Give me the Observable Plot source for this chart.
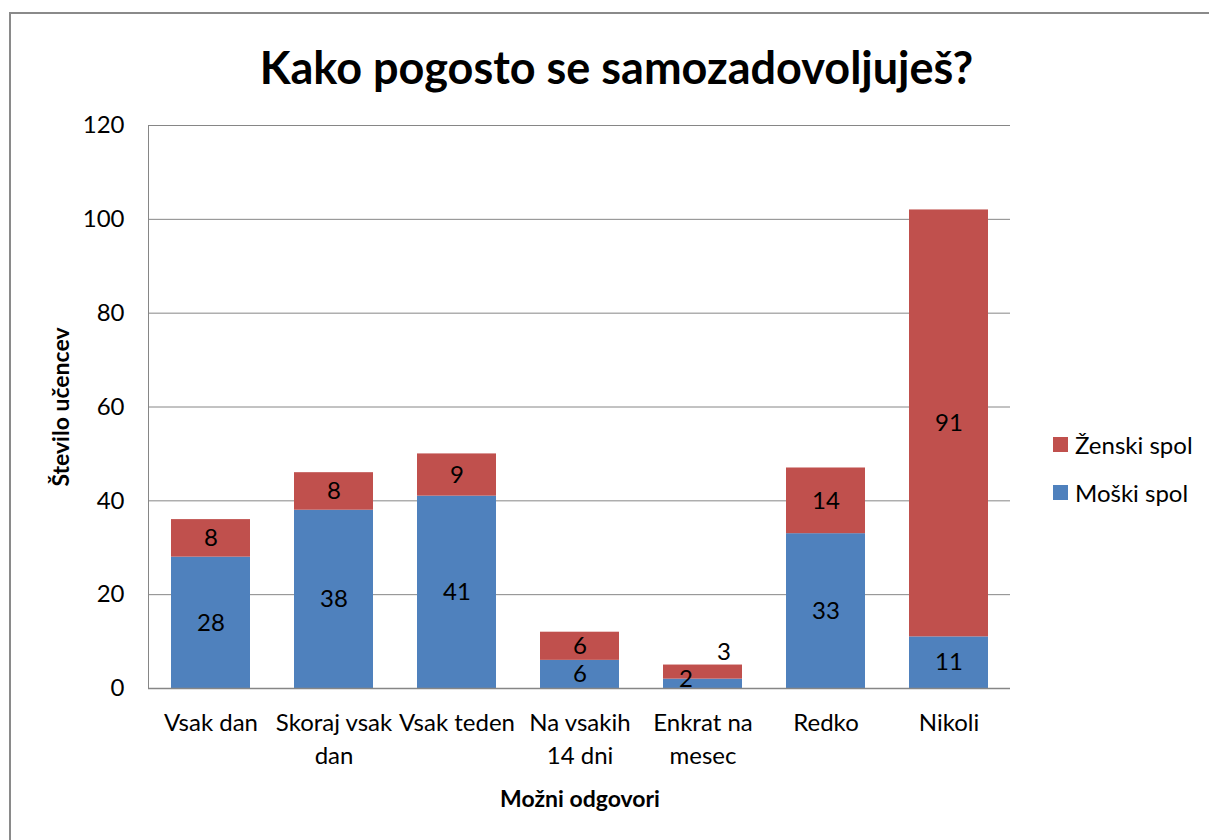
<!DOCTYPE html>
<html>
<head>
<meta charset="utf-8">
<script src="https://cdn.jsdelivr.net/npm/d3@7"></script>
<script src="https://cdn.jsdelivr.net/npm/@observablehq/plot@0.6"></script>
<style>
  html, body { margin: 0; padding: 0; background: #fff; overflow: hidden; }
  #wrap { position: relative; width: 1209px; height: 840px; overflow: hidden; font-family: Lato, "Open Sans", sans-serif; }
  #border { position: absolute; left: 9px; top: 12px; width: 1300px; height: 1000px; border: 2px solid #8a8a8a; box-sizing: border-box; }
  #chart { position: absolute; left: 0; top: 0; }
  .t { position: absolute; color: #000; white-space: nowrap; }
  #title { left: 0; width: 1233px; top: 40px; text-align: center; font-size: 45px; font-weight: bold; }
  #ylab { left: 60px; top: 407px; font-size: 23px; font-weight: bold; transform: translate(-50%, -50%) rotate(-90deg); }
  #xlab { left: 580px; top: 798px; font-size: 23px; font-weight: bold; transform: translate(-50%, -50%); }
  #legend { left: 1053px; top: 427px; font-size: 24px; }
  .li { display: flex; align-items: center; height: 34px; margin-bottom: 14px; }
  .sw { width: 15px; height: 15px; margin-right: 7px; }
</style>
</head>
<body>
<div id="wrap">
  <div id="border"></div>
  <div id="chart"></div>
  <div class="t" id="title">Kako pogosto se samozadovoljuješ?</div>
  <div class="t" id="ylab">Število učencev</div>
  <div class="t" id="xlab">Možni odgovori</div>
  <div class="t" id="legend"></div>
</div>
<script>
const categories = ["Vsak dan", "Skoraj vsak dan", "Vsak teden", "Na vsakih 14 dni", "Enkrat na mesec", "Redko", "Nikoli"];
const tickLabels = ["Vsak dan", "Skoraj vsak\ndan", "Vsak teden", "Na vsakih\n14 dni", "Enkrat na\nmesec", "Redko", "Nikoli"];
const seriesNames = ["Moški spol", "Ženski spol"];
const moski = [28, 38, 41, 6, 2, 33, 11];
const zenski = [8, 8, 9, 6, 3, 14, 91];
const yTicks = [0, 20, 40, 60, 80, 100, 120];
const colors = ["#4F81BD", "#C0504D"];

const data = [];
categories.forEach((c, i) => {
  data.push({cat: c, series: seriesNames[0], value: moski[i]});
  data.push({cat: c, series: seriesNames[1], value: zenski[i]});
});

const small = "Enkrat na mesec";
const normal = data.filter(d => d.cat !== small);

const plot = Plot.plot({
  width: 1209,
  height: 840,
  marginLeft: 148,
  marginRight: 199,
  marginTop: 125,
  marginBottom: 152,
  style: {fontFamily: "Lato, 'Open Sans', sans-serif", color: "#000", background: "transparent"},
  x: {domain: categories, paddingInner: 0.36, paddingOuter: 0.18, label: null},
  y: {domain: [0, 120], label: null},
  color: {domain: seriesNames, range: colors},
  marks: [
    Plot.ruleY(yTicks, {stroke: "#868686", strokeWidth: 1}),
    Plot.barY(data, Plot.stackY({x: "cat", y: "value", fill: "series", order: seriesNames})),
    Plot.text(normal, Plot.stackY({x: "cat", y: "value", z: "series", text: "value", order: seriesNames, fontSize: 24, fill: "#000"})),
    Plot.text(data.filter(d => d.cat === small && d.series === seriesNames[0]),
      Plot.stackY({x: "cat", y: "value", text: "value", fontSize: 24, fill: "#000", dx: -17, dy: -4})),
    Plot.text(data.filter(d => d.cat === small), 
      Plot.stackY({x: "cat", y: "value", z: "series", text: d => d.series === seriesNames[1] ? d.value : "", order: seriesNames, fontSize: 24, fill: "#000", dx: 21, dy: -20})),
    Plot.frame({anchor: "left", stroke: "#868686"}),
    Plot.ruleY([0], {stroke: "#868686", strokeWidth: 1.5}),
    Plot.axisY({ticks: yTicks, tickSize: 0, tickPadding: 24, fontSize: 24, label: null}),
    Plot.axisX({tickSize: 0, tickPadding: 19, fontSize: 24, lineHeight: 1.375, label: null,
      tickFormat: d => tickLabels[categories.indexOf(d)]})
  ]
});
document.getElementById("chart").appendChild(plot);

const legend = document.getElementById("legend");
[1, 0].forEach(i => {
  const row = document.createElement("div");
  row.className = "li";
  const sw = document.createElement("div");
  sw.className = "sw";
  sw.style.background = colors[i];
  const tx = document.createElement("span");
  tx.textContent = seriesNames[i];
  row.appendChild(sw);
  row.appendChild(tx);
  legend.appendChild(row);
});
</script>
</body>
</html>
